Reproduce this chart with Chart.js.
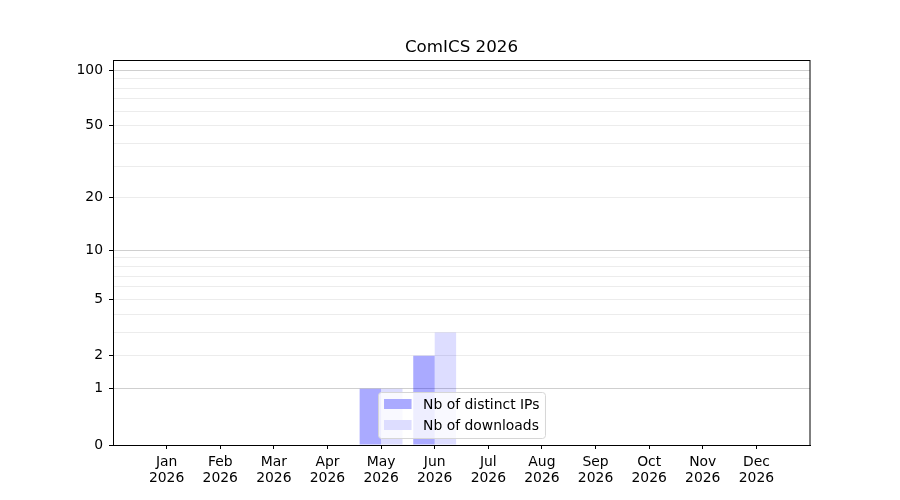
<!DOCTYPE html>
<html>
<head>
<meta charset="utf-8">
<title>ComICS 2026</title>
<script src="https://cdn.jsdelivr.net/npm/chart.js@4.4.1/dist/chart.umd.min.js"></script>
<style>
  body { margin: 0; background: #fff; }
  #wrap { width: 900px; height: 500px; }
</style>
</head>
<body>
<div id="wrap"><canvas id="statsChart" width="900" height="500"></canvas></div>
<script>
// values
const months = ['Jan', 'Feb', 'Mar', 'Apr', 'May', 'Jun', 'Jul', 'Aug', 'Sep', 'Oct', 'Nov', 'Dec'];
const year = '2026';
const distinctIps = [0, 0, 0, 0, 1, 2, 0, 0, 0, 0, 0, 0];
const downloads = [0, 0, 0, 0, 1, 3, 0, 0, 0, 0, 0, 0];

// y axis ticks (the axis is log10(1 + v))
const yGridTicks = [0, 1, 2, 3, 4, 5, 6, 7, 8, 9, 10, 20, 30, 40, 50, 60, 70, 80, 90, 100];
const yLabelTicks = [0, 1, 2, 5, 10, 20, 50, 100];
const yMajorTicks = [1, 10, 100];
const yMax = 113.5;

const FONT = 'DejaVu Sans';
const chartTitle = 'ComICS 2026';

// scale that places v at log10(1 + v)
class Log1pScale extends Chart.LinearScale {
    configure() {
        super.configure();
        this._t0 = Math.log10(1 + this.min);
        this._t1 = Math.log10(1 + this.max);
    }
    getPixelForValue(value) {
        const t = Math.log10(1 + value);
        return this.getPixelForDecimal((t - this._t0) / (this._t1 - this._t0));
    }
    getValueForPixel(pixel) {
        const d = this.getDecimalForPixel(pixel);
        return Math.pow(10, this._t0 + d * (this._t1 - this._t0)) - 1;
    }
}
Log1pScale.id = 'log1p';
Log1pScale.defaults = Chart.LinearScale.defaults;
Chart.register(Log1pScale);

// one empty slot on each side, like the reference's margins
const xLabels = [''].concat(months.map(m => [m, year]), ['']);
const pad = arr => [null].concat(arr, [null]);

// title over the plot, legend in the lower centre, full axes frame
const framePlugin = {
    id: 'frameAndLegend',
    afterDraw(chart) {
        const ctx = chart.ctx;
        const a = chart.chartArea;
        ctx.save();
        ctx.strokeStyle = '#000';
        ctx.lineWidth = 1;
        ctx.strokeRect(Math.round(a.left) + 0.5, Math.round(a.top) + 0.5,
            Math.round(a.right - a.left) - 0.5, Math.round(a.bottom - a.top));

        ctx.fillStyle = '#000';
        ctx.font = '16.7px "' + FONT + '"';
        ctx.textAlign = 'center';
        ctx.textBaseline = 'middle';
        ctx.fillText(chartTitle, (a.left + a.right) / 2, a.top - 12);

        const items = [
            { text: chart.data.datasets[0].label, color: '#aaaaff' },
            { text: chart.data.datasets[1].label, color: '#ddddff' }
        ];
        ctx.font = '13.9px "' + FONT + '"';
        const textW = Math.max(...items.map(i => ctx.measureText(i.text).width));
        const w = 6 + 27.5 + 11 + textW + 6;
        const h = 46;
        const x = (a.left + a.right) / 2 - w / 2;
        const y = a.bottom - 7 - h;
        ctx.beginPath();
        ctx.roundRect(x + 0.5, y + 0.5, w, h, 3);
        ctx.fillStyle = 'rgba(255,255,255,0.8)';
        ctx.fill();
        ctx.strokeStyle = '#d6d6d6';
        ctx.stroke();
        items.forEach((it, i) => {
            const cy = y + 12 + i * 21;
            ctx.fillStyle = it.color;
            ctx.fillRect(x + 6, cy - 5, 27.5, 10);
            ctx.fillStyle = '#000';
            ctx.textBaseline = 'middle';
            ctx.textAlign = 'left';
            ctx.fillText(it.text, x + 45, cy + 1);
        });
        ctx.restore();
    }
};

const config = {
    type: 'bar',
    data: {
        labels: xLabels,
        datasets: [{
            label: 'Nb of distinct IPs',
            data: pad(distinctIps),
            backgroundColor: 'rgba(0,0,255,0.333)',
            borderWidth: 0,
            categoryPercentage: 0.8,
            barPercentage: 1.0
        }, {
            label: 'Nb of downloads',
            data: pad(downloads),
            backgroundColor: 'rgba(0,0,255,0.134)',
            borderWidth: 0,
            categoryPercentage: 0.8,
            barPercentage: 1.0
        }]
    },
    options: {
        responsive: false,
        devicePixelRatio: 1,
        animation: false,
        layout: { padding: { left: 0, right: 90, top: 60, bottom: 0 } },
        plugins: {
            legend: { display: false },
            tooltip: { enabled: false },
            title: { display: false }
        },
        scales: {
            x: {
                type: 'category',
                offset: false,
                grid: {
                    offset: false,
                    drawOnChartArea: false,
                    tickLength: 4,
                    tickColor: c => (c.index === 0 || c.index === xLabels.length - 1) ? 'rgba(0,0,0,0)' : '#000'
                },
                border: { display: true, color: '#000', width: 1 },
                ticks: {
                    autoSkip: false,
                    maxRotation: 0,
                    minRotation: 0,
                    padding: 5,
                    color: '#000',
                    font: { family: FONT, size: 13.9, lineHeight: 1.15 }
                },
                afterFit(scale) { scale.height = 55; }
            },
            y: {
                type: 'log1p',
                min: 0,
                max: yMax,
                afterBuildTicks(scale) {
                    scale.ticks = yGridTicks.map(v => ({ value: v }));
                },
                grid: {
                    tickLength: 4,
                    lineWidth: 1,
                    color: c => {
                        const v = c.tick.value;
                        if (v === 0) return 'rgba(0,0,0,0)';
                        return yMajorTicks.includes(v) ? '#cfcfcf' : '#ececec';
                    },
                    tickColor: c => yLabelTicks.includes(c.tick.value) ? '#000' : 'rgba(0,0,0,0)'
                },
                border: { display: true, color: '#000', width: 1 },
                ticks: {
                    autoSkip: false,
                    padding: 6,
                    color: '#000',
                    font: { family: FONT, size: 13.9 },
                    callback: v => yLabelTicks.includes(v) ? String(v) : ''
                },
                afterFit(scale) { scale.width = 113; }
            }
        }
    },
    plugins: [framePlugin]
};

document.addEventListener('DOMContentLoaded', function () {
    const ctx = document.getElementById('statsChart');
    if (ctx) {
        new Chart(ctx, config);
    }
});
</script>
</body>
</html>
